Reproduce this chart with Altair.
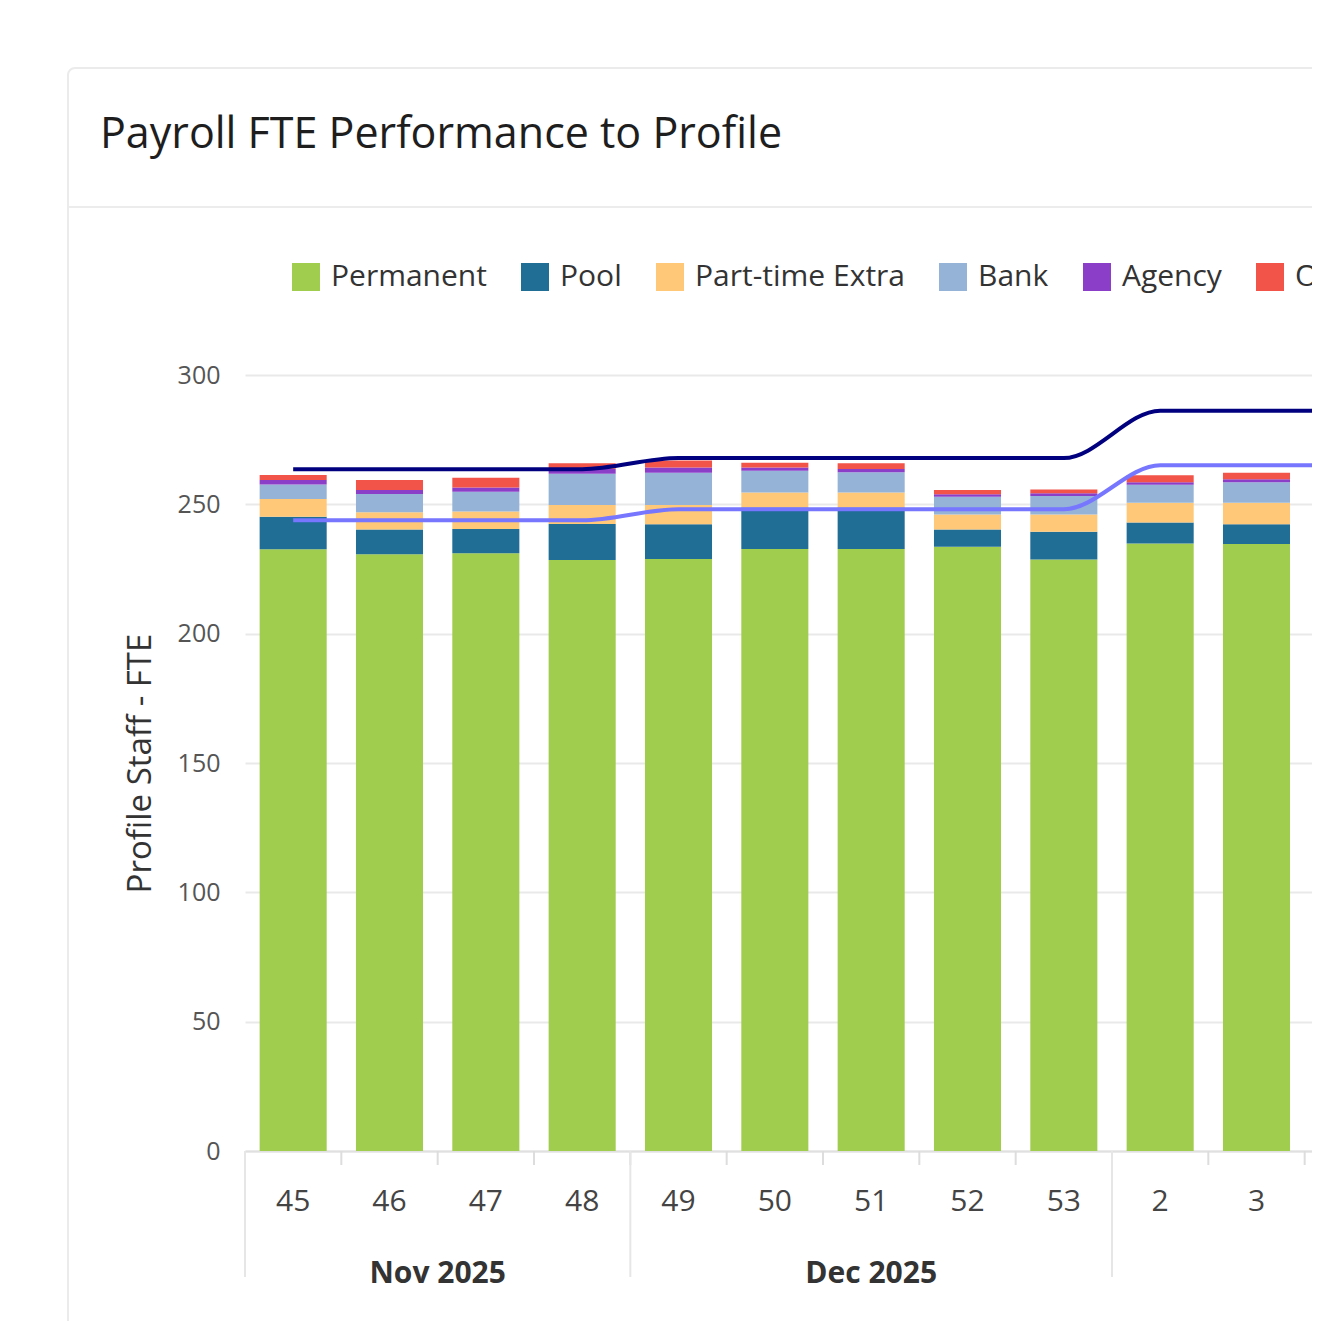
import altair as alt
import pandas as pd

# ---------------- data ----------------
weeks = ["45", "46", "47", "48", "49", "50", "51", "52", "53", "2", "3", "4"]
week_month = ["Nov 2025"] * 4 + ["Dec 2025"] * 5 + ["Jan 2026"] * 3
labelled_months = ["Nov 2025", "Dec 2025"]  # Jan 2026 label lies beyond the crop
labelled_weeks = weeks[:-1]                 # the week-4 label lies beyond the crop

categories = ["Permanent", "Pool", "Part-time Extra", "Bank", "Agency", "Overtime"]
cat_colors = ["#a0cd4e", "#206d96", "#fec878", "#95b3d7", "#8b3fc8", "#f2544a"]

permanent = [232.6, 230.7, 231.1, 228.5, 228.9, 232.7, 232.7, 233.6, 228.7, 234.9, 234.7, 231.0]
pool = [12.6, 9.6, 9.4, 13.9, 13.4, 16.1, 16.1, 6.7, 10.7, 8.1, 7.6, 8.5]
part_time_extra = [6.9, 6.6, 6.7, 7.3, 7.4, 5.8, 5.8, 5.8, 6.7, 7.6, 8.3, 6.5]
bank = [5.6, 7.1, 7.7, 12.1, 12.5, 8.4, 7.8, 6.8, 7.1, 7.0, 7.9, 8.5]
agency = [1.7, 1.5, 1.6, 2.0, 2.0, 1.2, 1.3, 1.0, 1.1, 0.9, 1.2, 1.5]
overtime = [1.9, 3.9, 3.8, 2.1, 2.7, 1.9, 2.2, 1.6, 1.4, 2.7, 2.5, 2.5]

line_series = ["Profile", "Profile (Substantive)"]
line_colors = ["#01017f", "#7676ff"]
profile = [263.6, 263.6, 263.6, 263.6, 267.9, 267.9, 267.9, 267.9, 267.9, 286.2, 286.2, 286.2]
profile_sub = [243.8, 243.8, 243.8, 243.8, 248.1, 248.1, 248.1, 248.1, 248.1, 265.1, 265.1, 265.1]

title_text = "Payroll FTE Performance to Profile"
y_title = "Profile Staff - FTE"
y_ticks = [0, 50, 100, 150, 200, 250, 300]

# ---------------- tables ----------------
series_values = [permanent, pool, part_time_extra, bank, agency, overtime]
rows = []
for ci, (cat, vals) in enumerate(zip(categories, series_values)):
    for w, v in zip(weeks, vals):
        rows.append({"week": w, "category": cat, "value": v, "order": ci})
df_bars = pd.DataFrame(rows)

lrows = []
for name, vals in zip(line_series, [profile, profile_sub]):
    for w, v in zip(weeks, vals):
        lrows.append({"week": w, "series": name, "value": v})
df_lines = pd.DataFrame(lrows)

groups = []
for i, m in enumerate(week_month):
    if not groups or groups[-1]["month"] != m:
        groups.append({"month": m, "start": i, "end": i + 1})
    else:
        groups[-1]["end"] = i + 1
df_seps = pd.DataFrame({"boundary": [g["start"] for g in groups]})
df_ticks = pd.DataFrame({"boundary": list(range(len(weeks) + 1))})
df_months = pd.DataFrame(
    [{"month": g["month"], "center": (g["start"] + g["end"]) / 2}
     for g in groups if g["month"] in labelled_months]
)

# ---------------- layout ----------------
VIEW_W = 1067   # visible plot width (page is cropped on the right)
RANGE_W = 1156  # full band range for the 12 weeks
PH = 776        # plot height
FONT = "Open Sans"

frame = alt.Chart(pd.DataFrame({"k": [0]})).mark_rect(
    fill="white", fillOpacity=0, stroke="#ebebeb", strokeWidth=2, cornerRadius=7
).encode(
    x=alt.value(-177), x2=alt.value(RANGE_W + 60),
    y=alt.value(-307), y2=alt.value(PH + 300),
)
separator = alt.Chart(pd.DataFrame({"k": [0]})).mark_rule(
    color="#ececec", strokeWidth=2
).encode(
    x=alt.value(-176), x2=alt.value(RANGE_W + 60), y=alt.value(-168),
)
title = alt.Chart(pd.DataFrame({"t": [title_text]})).mark_text(
    align="left", baseline="alphabetic", font=FONT, fontSize=43,
    fontWeight=500, color="#1e1e1e"
).encode(x=alt.value(-145), y=alt.value(-227), text="t:N")

x_enc = alt.X(
    "week:N", sort=weeks,
    scale=alt.Scale(domain=weeks, range=[0, RANGE_W],
                    paddingInner=0.304, paddingOuter=0.152),
    axis=alt.Axis(
        title=None, labelAngle=0, values=labelled_weeks, labelFontSize=30,
        labelColor="#444444", labelFont=FONT, labelPadding=35,
        ticks=False, domainColor="#e0e0e0", domainWidth=2, grid=False,
    ),
)

bars = alt.Chart(df_bars).mark_bar().encode(
    x=x_enc,
    y=alt.Y(
        "value:Q", stack="zero",
        scale=alt.Scale(domain=[0, 300], nice=False),
        axis=alt.Axis(
            title=y_title, values=y_ticks, labelFontSize=25,
            labelColor="#555555", labelFont=FONT, labelPadding=25,
            ticks=False, domain=False, grid=True, gridColor="#e9e9e9",
            gridWidth=2, titleFontSize=33, titleColor="#333333",
            titleFont=FONT, titleFontWeight=500, titlePadding=20,
        ),
    ),
    color=alt.Color(
        "category:N",
        scale=alt.Scale(domain=categories, range=cat_colors),
        legend=alt.Legend(
            title=None, orient="none", legendX=46, legendY=-113,
            direction="horizontal", symbolType="square", symbolSize=784,
            symbolStrokeWidth=0, labelFontSize=30, labelFont=FONT,
            labelColor="#333333", labelOffset=10, columnPadding=33,
            labelLimit=400,
        ),
    ),
    order=alt.Order("order:Q"),
)

lines = alt.Chart(df_lines).mark_line(
    interpolate="monotone", strokeWidth=4
).encode(
    x=x_enc,
    y=alt.Y("value:Q", stack=None),
    stroke=alt.Stroke(
        "series:N", scale=alt.Scale(domain=line_series, range=line_colors),
        legend=None,
    ),
    detail="series:N",
)

main = alt.layer(frame, separator, title, bars, lines)

idx_scale = alt.Scale(domain=[0, len(weeks)], range=[0, RANGE_W], nice=False, zero=False)
ticks = alt.Chart(df_ticks).mark_rule(color="#dddddd", strokeWidth=2).encode(
    x=alt.X("boundary:Q", scale=idx_scale, axis=None),
    y=alt.value(PH), y2=alt.value(PH + 14),
)
seps = alt.Chart(df_seps).mark_rule(color="#e6e6e6", strokeWidth=2).encode(
    x=alt.X("boundary:Q", scale=idx_scale, axis=None),
    y=alt.value(PH), y2=alt.value(PH + 126),
)
month_text = alt.Chart(df_months).mark_text(
    font=FONT, fontSize=30, fontWeight="bold", color="#333333",
    baseline="alphabetic", align="center"
).encode(
    x=alt.X("center:Q", scale=idx_scale, axis=None),
    y=alt.value(PH + 132),
    text="month:N",
)
months = alt.layer(ticks, seps, month_text)

chart = alt.layer(main, months).resolve_scale(
    x="independent", stroke="independent"
).properties(
    width=VIEW_W, height=PH,
    autosize=alt.AutoSizeParams(type="none"),
    padding={"left": 237, "top": 367, "right": 0, "bottom": 170},
    background="white",
).configure(font=FONT).configure_view(stroke=None)

chart.save("out.html", embed_options={"renderer": "svg", "actions": False})
